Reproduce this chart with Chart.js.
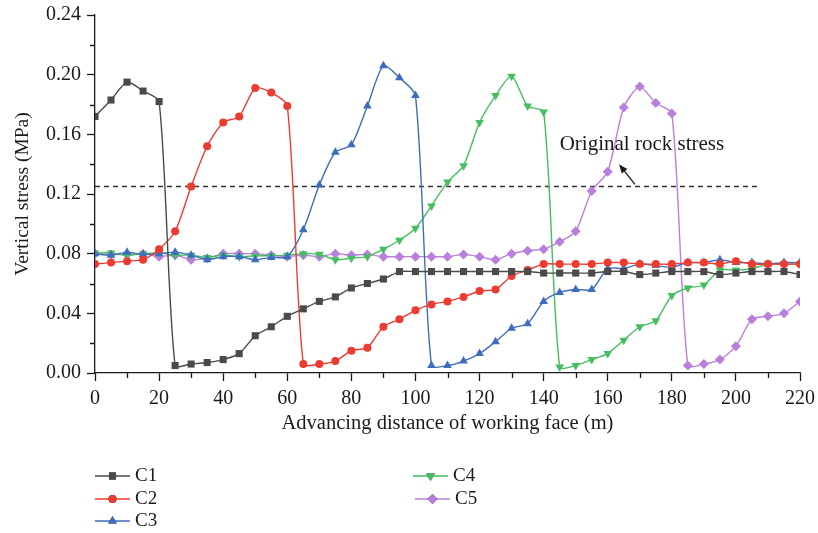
<!DOCTYPE html>
<html>
<head>
<meta charset="utf-8">
<script src="https://cdn.jsdelivr.net/npm/chart.js@4.4.1/dist/chart.umd.min.js"></script>
<style>
  html, body { margin: 0; padding: 0; background: #fff; }
  #stress { display: block; }
</style>
</head>
<body>
<canvas id="stress" width="818" height="533"></canvas>
<script>
// advancing distance of the working face (m)
const distance = [0, 5, 10, 15, 20, 25, 30, 35, 40, 45, 50, 55, 60, 65, 70, 75, 80, 85, 90, 95,
    100, 105, 110, 115, 120, 125, 130, 135, 140, 145, 150, 155, 160, 165, 170, 175, 180, 185, 190, 195,
    200, 205, 210, 215, 220];

// vertical stress at each monitoring point (MPa)
const c1 = [0.172, 0.183, 0.195, 0.189, 0.182, 0.005, 0.006, 0.007, 0.009, 0.013, 0.025, 0.031, 0.038, 0.043, 0.048,
    0.051, 0.057, 0.060, 0.063, 0.068, 0.068, 0.068, 0.068, 0.068, 0.068, 0.068, 0.068, 0.068, 0.067, 0.067,
    0.067, 0.067, 0.068, 0.068, 0.066, 0.067, 0.068, 0.068, 0.068, 0.066, 0.067, 0.068, 0.068, 0.068, 0.066];
const c2 = [0.073, 0.074, 0.075, 0.076, 0.083, 0.095, 0.125, 0.152, 0.168, 0.172, 0.191, 0.188, 0.179, 0.006, 0.006,
    0.008, 0.015, 0.017, 0.031, 0.036, 0.042, 0.046, 0.048, 0.051, 0.055, 0.056, 0.065, 0.069, 0.073, 0.073,
    0.073, 0.073, 0.074, 0.074, 0.073, 0.073, 0.073, 0.074, 0.074, 0.073, 0.075, 0.073, 0.073, 0.073, 0.073];
const c3 = [0.080, 0.079, 0.081, 0.0795, 0.080, 0.081, 0.079, 0.076, 0.078, 0.078, 0.076, 0.0775, 0.078, 0.096, 0.126,
    0.148, 0.153, 0.179, 0.206, 0.198, 0.186, 0.005, 0.005, 0.008, 0.013, 0.021, 0.030, 0.033, 0.048, 0.054,
    0.056, 0.056, 0.070, 0.070, 0.073, 0.072, 0.071, 0.074, 0.074, 0.076, 0.074, 0.074, 0.073, 0.074, 0.074];
const c4 = [0.0805, 0.0805, 0.079, 0.080, 0.0805, 0.079, 0.079, 0.0775, 0.079, 0.078, 0.0785, 0.0786, 0.079, 0.080, 0.0796,
    0.076, 0.077, 0.078, 0.083, 0.089, 0.097, 0.112, 0.128, 0.139, 0.168, 0.186, 0.199, 0.179, 0.175, 0.004,
    0.005, 0.009, 0.013, 0.022, 0.031, 0.035, 0.052, 0.057, 0.059, 0.069, 0.069, 0.070, 0.073, 0.073, 0.073];
const c5 = [0.080, 0.0795, 0.0795, 0.080, 0.078, 0.079, 0.076, 0.077, 0.080, 0.080, 0.080, 0.079, 0.078, 0.079, 0.078,
    0.080, 0.079, 0.0795, 0.078, 0.078, 0.078, 0.078, 0.078, 0.0795, 0.078, 0.076, 0.080, 0.082, 0.083, 0.088,
    0.095, 0.122, 0.135, 0.178, 0.192, 0.181, 0.174, 0.005, 0.006, 0.009, 0.018, 0.036, 0.038, 0.040, 0.048];

const seriesNames = ['C1', 'C2', 'C3', 'C4', 'C5'];

// reference level of the undisturbed rock
const rockStress = 0.125;
const rockStressSpan = [0, 207];
const rockStressLabel = 'Original rock stress';

const xTickLabels = ['0', '20', '40', '60', '80', '100', '120', '140', '160', '180', '200', '220'];
const yTickLabels = ['0.00', '0.04', '0.08', '0.12', '0.16', '0.20', '0.24'];

const FONT = '"Liberation Serif", "Times New Roman", serif';
const INK = '#1a1a1a';

const toPoints = values => values.map((v, i) => ({ x: distance[i], y: v }));

function series(label, values, color, pointStyle, radius, rotation) {
    return {
        label,
        data: toPoints(values),
        borderColor: color,
        backgroundColor: color,
        borderWidth: 1.4,
        pointStyle,
        pointRadius: radius,
        pointRotation: rotation || 0,
        pointBorderWidth: 0,
        pointHoverRadius: radius,
        tension: 0.25,
    };
}

// minor tick marks halfway between the labelled ones
const minorTicks = {
    id: 'minorTicks',
    afterDraw(chart) {
        const { ctx, scales: { x, y } } = chart;
        ctx.save();
        ctx.strokeStyle = INK;
        ctx.lineWidth = 1.3;
        ctx.beginPath();
        for (let i = 0; i < xTickLabels.length - 1; i++) {
            const v = (+xTickLabels[i] + +xTickLabels[i + 1]) / 2;
            const px = Math.round(x.getPixelForValue(v)) + 0.5;
            ctx.moveTo(px, x.top);
            ctx.lineTo(px, x.top + 5);
        }
        for (let i = 0; i < yTickLabels.length - 1; i++) {
            const v = (+yTickLabels[i] + +yTickLabels[i + 1]) / 2;
            const py = Math.round(y.getPixelForValue(v)) + 0.5;
            ctx.moveTo(y.right, py);
            ctx.lineTo(y.right - 5, py);
        }
        ctx.stroke();
        ctx.restore();
    }
};

// label and arrow pointing at the dashed rock-stress line
const rockNote = {
    id: 'rockNote',
    afterDatasetsDraw(chart, args, opts) {
        const { ctx, scales: { x, y } } = chart;
        ctx.save();
        ctx.fillStyle = INK;
        ctx.strokeStyle = INK;
        ctx.font = opts.font;
        ctx.textBaseline = 'middle';
        ctx.fillText(rockStressLabel, x.getPixelForValue(opts.textAt[0]), y.getPixelForValue(opts.textAt[1]));

        const x0 = x.getPixelForValue(opts.arrowFrom[0]), y0 = y.getPixelForValue(opts.arrowFrom[1]);
        const x1 = x.getPixelForValue(opts.arrowTo[0]), y1 = y.getPixelForValue(opts.arrowTo[1]);
        const a = Math.atan2(y1 - y0, x1 - x0);
        ctx.lineWidth = 1.3;
        ctx.beginPath();
        ctx.moveTo(x0, y0);
        ctx.lineTo(x1 - 6 * Math.cos(a), y1 - 6 * Math.sin(a));
        ctx.stroke();
        ctx.beginPath();
        ctx.moveTo(x1, y1);
        ctx.lineTo(x1 - 9 * Math.cos(a) + 3.5 * Math.sin(a), y1 - 9 * Math.sin(a) - 3.5 * Math.cos(a));
        ctx.lineTo(x1 - 9 * Math.cos(a) - 3.5 * Math.sin(a), y1 - 9 * Math.sin(a) + 3.5 * Math.cos(a));
        ctx.closePath();
        ctx.fill();
        ctx.restore();
    }
};

// two-column legend under the x axis title
const splitLegend = {
    id: 'splitLegend',
    afterDraw(chart, args, opts) {
        const { ctx } = chart;
        ctx.save();
        ctx.font = opts.font;
        ctx.textBaseline = 'middle';
        opts.slots.forEach((slot, i) => {
            const ds = chart.data.datasets[i];
            const [lx, ly] = slot;
            ctx.strokeStyle = ds.borderColor;
            ctx.lineWidth = 1.4;
            ctx.beginPath();
            ctx.moveTo(lx, ly);
            ctx.lineTo(lx + opts.lineLength, ly);
            ctx.stroke();
            Chart.helpers.drawPoint(ctx, {
                pointStyle: ds.pointStyle,
                radius: ds.pointRadius,
                rotation: ds.pointRotation,
                borderWidth: 0
            }, lx + opts.lineLength / 2, ly);
            ctx.fillStyle = ds.borderColor;
            ctx.fill();
            ctx.fillStyle = INK;
            ctx.fillText(ds.label, lx + opts.lineLength + 5, ly);
        });
        ctx.restore();
    }
};

const datasets = [
    series(seriesNames[0], c1, '#4a4a4a', 'rect', 5),
    series(seriesNames[1], c2, '#ee3b30', 'circle', 4),
    series(seriesNames[2], c3, '#3e6dbf', 'triangle', 5),
    series(seriesNames[3], c4, '#45bd60', 'triangle', 5, 180),
    series(seriesNames[4], c5, '#b87fdc', 'rectRot', 5),
    {
        label: rockStressLabel,
        data: rockStressSpan.map(d => ({ x: d, y: rockStress })),
        borderColor: '#333',
        borderWidth: 1.4,
        borderDash: [5, 4],
        pointRadius: 0,
        tension: 0,
    }
];

new Chart(document.getElementById('stress'), {
    type: 'line',
    data: { datasets },
    plugins: [minorTicks, rockNote, splitLegend],
    options: {
        responsive: false,
        animation: false,
        events: [],
        layout: { padding: 0 },
        plugins: {
            legend: { display: false },
            tooltip: { enabled: false },
            rockNote: {
                font: '21px ' + FONT,
                textAt: [145, 0.1535],
                arrowFrom: [168.5, 0.1265],
                arrowTo: [163.5, 0.140],
            },
            splitLegend: {
                font: '19px ' + FONT,
                lineLength: 35,
                slots: [[95, 476], [95, 499], [95, 521], [413, 476], [415, 499]],
            },
        },
        scales: {
            x: {
                type: 'linear',
                min: 0,
                max: 220,
                afterFit: scale => {
                    scale.height = 160;
                    scale.paddingLeft = 0;
                    scale.paddingRight = 18;
                },
                border: { color: INK, width: 1.3 },
                grid: { drawOnChartArea: false, drawTicks: true, tickLength: 8, color: INK, tickWidth: 1.3 },
                ticks: {
                    stepSize: 20,
                    color: INK,
                    padding: 6,
                    maxRotation: 0,
                    font: { family: FONT, size: 20 },
                    callback: (v, i) => xTickLabels[i],
                },
                title: {
                    display: true,
                    text: 'Advancing distance of working face (m)',
                    color: INK,
                    font: { family: FONT, size: 20.5 },
                    padding: { top: 0, bottom: 97 },
                },
            },
            y: {
                min: 0,
                max: 0.24,
                afterFit: scale => {
                    scale.width = 95;
                    scale.paddingTop = 15;
                    scale.paddingBottom = 0;
                },
                border: { color: INK, width: 1.3 },
                grid: { drawOnChartArea: false, drawTicks: true, tickLength: 8, color: INK, tickWidth: 1.3 },
                ticks: {
                    stepSize: 0.04,
                    color: INK,
                    padding: 6,
                    font: { family: FONT, size: 20 },
                    callback: (v, i) => yTickLabels[i],
                },
                title: {
                    display: true,
                    text: 'Vertical stress (MPa)',
                    color: INK,
                    font: { family: FONT, size: 19.5 },
                    padding: { top: 11, bottom: 0 },
                },
            },
        },
    },
});
</script>
</body>
</html>
